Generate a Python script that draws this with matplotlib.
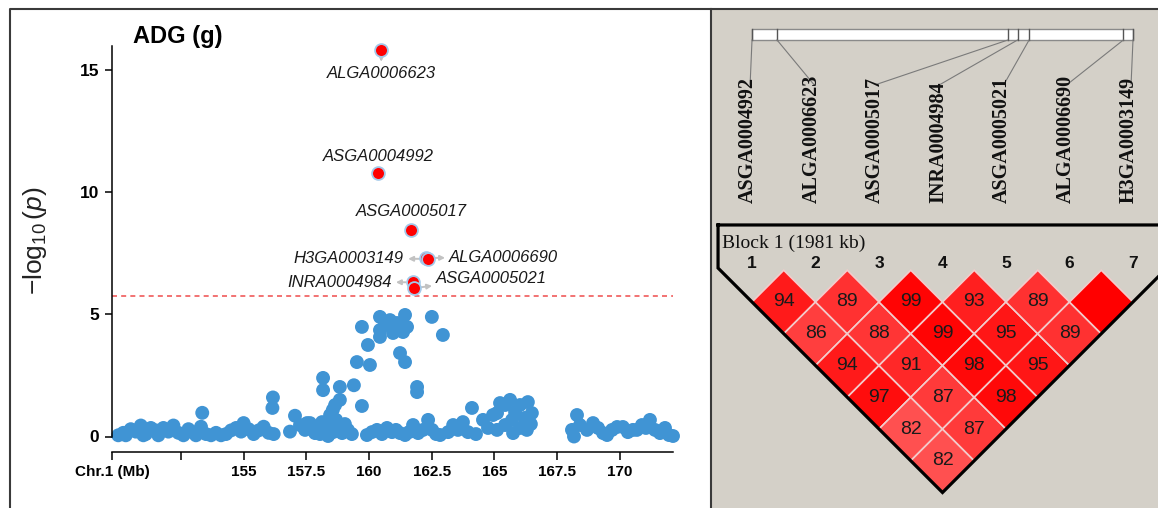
import numpy as np
import matplotlib
matplotlib.use("Agg")
import matplotlib.pyplot as plt
from matplotlib.patches import Polygon, Rectangle
from matplotlib.lines import Line2D
from matplotlib.colors import LinearSegmentedColormap, Normalize

plt.rcParams["font.family"] = ["Liberation Sans", "DejaVu Sans"]
plt.rcParams["mathtext.fontset"] = "custom"
plt.rcParams["mathtext.rm"] = "Liberation Sans"
plt.rcParams["mathtext.it"] = "Liberation Sans:italic"

# background SNPs on chr 1 (Mb, -log10 p)
snp_pos = [
    150.0, 150.2, 150.3, 150.5, 150.7, 150.9, 151.0, 151.1, 151.3, 151.5, 151.6, 151.8,
    152.0, 152.2, 152.4, 152.6, 152.8, 152.9, 153.1, 153.3, 153.35, 153.5, 153.7, 153.9,
    154.1, 154.3, 154.5, 154.7, 154.9, 155.0, 155.2, 155.4, 155.6, 155.8, 156.0, 156.15,
    156.17, 156.2, 156.85, 157.05, 157.25, 157.45, 157.53, 157.65, 157.85, 157.97, 158.05,
    158.13, 158.17, 158.17, 158.29, 158.37, 158.45, 158.45, 158.56, 158.57, 158.65, 158.69,
    158.77, 158.84, 158.84, 158.93, 159.04, 159.16, 159.32, 159.4, 159.52, 159.72, 159.72,
    159.92, 159.96, 160.04, 160.12, 160.32, 160.44, 160.44, 160.44, 160.52, 160.64, 160.72,
    160.84, 160.92, 160.96, 161.08, 161.12, 161.24, 161.24, 161.24, 161.36, 161.44, 161.44,
    161.44, 161.52, 161.6, 161.76, 161.92, 161.92, 161.96, 162.16, 162.36, 162.51, 162.52,
    162.68, 162.84, 162.95, 163.16, 163.36, 163.55, 163.75, 163.95, 164.11, 164.27, 164.55,
    164.75, 164.95, 165.11, 165.11, 165.23, 165.43, 165.43, 165.63, 165.71, 165.75, 165.83,
    166.03, 166.03, 166.22, 166.3, 166.34, 166.46, 166.5, 168.1, 168.18, 168.3, 168.42,
    168.7, 168.94, 169.14, 169.34, 169.5, 169.7, 169.9, 170.13, 170.33, 170.53, 170.69,
    170.89, 171.05, 171.21, 171.41, 171.61, 171.81, 171.97, 172.13,
]
snp_logp = [
    0.05, 0.15, 0.05, 0.3, 0.2, 0.45, 0.05, 0.1, 0.35, 0.25, 0.05, 0.35,
    0.2, 0.45, 0.15, 0.05, 0.3, 0.2, 0.05, 0.4, 0.97, 0.1, 0.05, 0.15,
    0.05, 0.1, 0.25, 0.35, 0.2, 0.55, 0.3, 0.1, 0.25, 0.4, 0.15, 1.17,
    1.6, 0.1, 0.2, 0.85, 0.47, 0.27, 0.55, 0.55, 0.14, 0.39, 0.1,
    0.59, 2.4, 1.9, 0.27, 0.02, 0.47, 0.88, 1.09, 0.18, 1.29, 0.68,
    0.35, 2.03, 1.5, 0.14, 0.51, 0.27, 0.1, 2.1, 3.05, 4.49, 1.25,
    0.06, 3.75, 2.93, 0.18, 0.27, 4.9, 4.36, 4.08, 0.1, 4.57, 0.35,
    4.77, 0.18, 4.24, 0.27, 4.65, 4.57, 3.42, 0.14, 4.28, 4.98, 3.05,
    0.06, 4.49, 0.18, 0.47, 2.03, 1.82, 0.14, 0.27, 0.68, 4.9, 0.27,
    0.1, 0.06, 4.16, 0.18, 0.47, 0.27, 0.59, 0.18, 1.17, 0.1, 0.68,
    0.35, 0.88, 0.27, 0.96, 1.37, 1.29, 0.47, 1.5, 0.68, 0.14, 1.0,
    1.29, 0.35, 0.76, 0.27, 1.41, 0.51, 0.96, 0.27, 0.0, 0.88, 0.47,
    0.27, 0.55, 0.35, 0.14, 0.06, 0.27, 0.39, 0.39, 0.18, 0.27, 0.27,
    0.47, 0.35, 0.68, 0.27, 0.14, 0.35, 0.06, 0.02,
]

# significant SNPs (also the LD block markers, in block order)
lead_names = ["ASGA0004992", "ALGA0006623", "ASGA0005017", "INRA0004984",
              "ASGA0005021", "ALGA0006690", "H3GA0003149"]
lead_pos = [160.36, 160.49, 161.69, 161.74, 161.80, 162.29, 162.34]
lead_logp = [10.8, 15.82, 8.46, 6.32, 6.08, 7.32, 7.28]
threshold = 5.74

xtick_vals = [149.75, 152.5, 155, 157.5, 160, 162.5, 165, 167.5, 170]
xtick_labels = ["Chr.1 (Mb)", "", "155", "157.5", "160", "162.5", "165", "167.5", "170"]

# D' (%) upper triangle: row i holds pairs (i, i+1..7)
ld_dprime = [
    [94, 86, 94, 97, 82, 82],
    [89, 88, 91, 87, 87],
    [99, 99, 98, 98],
    [93, 95, 95],
    [89, 89],
    [100],
]
block_label = "Block 1 (1981 kb)"

W, H = 1158, 508
fig = plt.figure(figsize=(W / 100, H / 100), dpi=100)

# ---- left: regional association plot
ax = fig.add_axes([112 / W, 71.5 / H, 561 / W, 390.5 / H])
ax.set_xlim(149.75, 172.13)
ax.set_ylim(0, 16)
ax.scatter(snp_pos, snp_logp, s=100, color="#4094d4", edgecolors="none",
           clip_on=False, zorder=2)
ax.axhline(threshold, color="#f05a5a", lw=1.2, ls=(0, (3, 2.5)), zorder=1)
ax.scatter(lead_pos, lead_logp, s=85, color="#ff0000", edgecolors="#a3c9ea",
           linewidths=1.3, clip_on=False, zorder=4)

# label offsets (points) and alignment for each lead SNP
label_style = {
    "ASGA0004992": ((0, 12), "center"),
    "ALGA0006623": ((0, -16.5), "center"),
    "ASGA0005017": ((0, 13), "center"),
    "INRA0004984": ((-15, 0), "right"),
    "ASGA0005021": ((16, 7), "left"),
    "ALGA0006690": ((16.5, 0), "left"),
    "H3GA0003149": ((-17, 0), "right"),
}
for name, xp, yp in zip(lead_names, lead_pos, lead_logp):
    off, ha = label_style[name]
    ax.annotate(name, xy=(xp, yp), xytext=off, textcoords="offset points",
                ha=ha, va="center", fontsize=12, style="italic", color="#1a1a1a",
                arrowprops=dict(arrowstyle="<|-", color="#c2c2c2", lw=1.4,
                                mutation_scale=7, shrinkA=1, shrinkB=5),
                zorder=3)

for s in ["top", "right"]:
    ax.spines[s].set_visible(False)
ax.spines["bottom"].set_position(("outward", 11.5))
ax.spines["left"].set_linewidth(1.1)
ax.spines["bottom"].set_linewidth(1.1)
ax.set_yticks([0, 5, 10, 15])
ax.set_xticks(xtick_vals)
ax.set_xticklabels(xtick_labels)
ax.tick_params(axis="y", length=5, width=1.1, labelsize=12.5, pad=4)
ax.tick_params(axis="x", length=6, width=1.1, labelsize=11, pad=3)
for lab in ax.get_xticklabels() + ax.get_yticklabels():
    lab.set_fontweight("bold")
ax.set_ylabel(r"$-\log_{10}(p)$", fontsize=19, color="#222222")
ax.yaxis.set_label_coords(-0.112, 0.5)
fig.text(133 / W, 1 - 43 / H, "ADG (g)", fontsize=17, fontweight="bold",
         ha="left", va="baseline")

# ---- right: LD block (x = marker index, y = depth, unit = one marker step)
ax2 = fig.add_axes([711 / W, 0, 447 / W, 499 / H])
ax2.set_facecolor("#d4d0c8")
ax2.set_xlim(0.354, 7.394)
ax2.set_ylim(3.744, -4.114)
ax2.set_xticks([])
ax2.set_yticks([])
for s in ["top", "right", "bottom"]:
    ax2.spines[s].set_visible(False)
ax2.spines["left"].set_color("#3a3a3a")
ax2.spines["left"].set_linewidth(1.5)

n = len(lead_names)
cmap = LinearSegmentedColormap.from_list("dp", ["#ffdfdf", "#ff0000"])
norm = Normalize(50, 100)
for i, row in enumerate(ld_dprime, start=1):
    for k, val in enumerate(row, start=1):
        j = i + k
        cx, cy = (i + j) / 2, (j - i) / 2
        diamond = Polygon([(cx - 0.5, cy), (cx, cy - 0.5), (cx + 0.5, cy), (cx, cy + 0.5)],
                          closed=True, facecolor=cmap(norm(val)),
                          edgecolor="#f3cccc", lw=1.2, zorder=2)
        ax2.add_patch(diamond)
        if val < 100:
            ax2.text(cx, cy, str(val), ha="center", va="center", fontsize=14,
                     color="#1a1a1a", zorder=3)

# block outline
bx0, bx1, btop = 0.465, n + 0.535, -0.713
outline = [(bx0, btop), (bx0, bx0 - 0.5), ((n + 1) / 2, n / 2),
           (bx1, n + 0.5 - bx1), (bx1, btop), (bx0, btop)]
ox, oy = zip(*outline)
ax2.plot(ox, oy, color="black", lw=2.3, zorder=4, solid_joinstyle="miter",
         clip_on=True)
for i in range(1, n + 1):
    ax2.text(i, -0.114, str(i), ha="center", va="center", fontsize=12.5,
             fontweight="bold", color="#111111")
ax2.text(0.528, -0.43, block_label, ha="left", va="center", fontsize=14,
         family="Liberation Serif", color="#111111")

# physical map bar with marker ticks
span = lead_pos[-1] - lead_pos[0]
bar_top, bar_bot = -3.794, -3.626
ax2.add_patch(Rectangle((1, bar_top), n - 1, bar_bot - bar_top, facecolor="white",
                        edgecolor="#8a8a8a", lw=1, zorder=2))
for i, (name, p) in enumerate(zip(lead_names, lead_pos), start=1):
    ut = 1 + (n - 1) * (p - lead_pos[0]) / span
    ax2.plot([ut, ut], [bar_top, bar_bot], color="#555555", lw=1, zorder=3)
    ax2.plot([ut, i - 0.03], [bar_bot, -2.93], color="#7a7a7a", lw=0.8, zorder=3)
    ax2.text(i - 0.06, -1.06, name, rotation=90, ha="center", va="bottom",
             fontsize=14.5, fontweight="bold", family="Liberation Serif",
             color="#111111")

# outer frame
fig.add_artist(Line2D([10 / W, 10 / W, 1], [0, 1 - 9 / H, 1 - 9 / H],
                      transform=fig.transFigure, color="#3a3a3a", lw=1.5))

fig.savefig("out.png", dpi=100)
